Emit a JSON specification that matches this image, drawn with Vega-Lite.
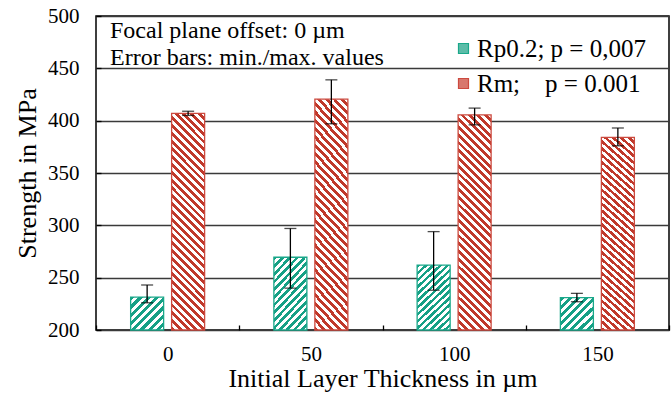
{
"$schema":"https://vega.github.io/schema/vega-lite/v6.json",
"autosize":"none",
"padding":{"left":96,"top":16,"right":2,"bottom":66},
"width":573,"height":314,
"background":"white",
"config":{"view":{"stroke":"black","strokeWidth":1.5},"font":"Liberation Serif",
"axis":{"labelFont":"Liberation Serif","titleFont":"Liberation Serif","labelColor":"black","titleColor":"black","titleFontWeight":"normal"},
"legend":{"labelFont":"Liberation Serif"}},
"title":{"text":["Focal plane offset: 0 µm","Error bars: min./max. values"],"anchor":"start","frame":"group","offset":-65,"dx":14,"fontSize":24,"fontWeight":"normal","lineHeight":27,"font":"Liberation Serif","color":"black"},
"data":{"values":[
{"t":"0","k":"Rp","s":"Rp0.2; p = 0,007","v":231.5,"lo":226,"hi":243},
{"t":"0","k":"Rm","s":"Rm;\u00a0\u00a0\u00a0\u00a0p = 0.001","v":407,"lo":405,"hi":409},
{"t":"50","k":"Rp","s":"Rp0.2; p = 0,007","v":269.5,"lo":240,"hi":297},
{"t":"50","k":"Rm","s":"Rm;\u00a0\u00a0\u00a0\u00a0p = 0.001","v":420.5,"lo":397,"hi":439},
{"t":"100","k":"Rp","s":"Rp0.2; p = 0,007","v":262,"lo":238,"hi":294},
{"t":"100","k":"Rm","s":"Rm;\u00a0\u00a0\u00a0\u00a0p = 0.001","v":405.5,"lo":396,"hi":412},
{"t":"150","k":"Rp","s":"Rp0.2; p = 0,007","v":231,"lo":227,"hi":235},
{"t":"150","k":"Rm","s":"Rm;\u00a0\u00a0\u00a0\u00a0p = 0.001","v":384,"lo":376,"hi":393}
]},
"encoding":{
"x":{"field":"t","type":"ordinal","sort":["0","50","100","150"],"scale":{"domain":["0","50","100","150"],"paddingInner":0,"paddingOuter":0},
"axis":{"title":"Initial Layer Thickness in µm","labelAngle":0,"domain":false,"grid":false,"tickBand":"extent","tickSize":-5,"tickColor":"black","tickWidth":1.3,"labelFontSize":21,"labelFont":"Liberation Serif","labelColor":"black","labelPadding":18,"titleFontSize":26,"titleFont":"Liberation Serif","titleFontWeight":"normal","titleColor":"black","titlePadding":1}},
"xOffset":{"field":"s","type":"nominal","sort":["Rp0.2; p = 0,007","Rm;\u00a0\u00a0\u00a0\u00a0p = 0.001"],"scale":{"domain":["Rp0.2; p = 0,007","Rm;\u00a0\u00a0\u00a0\u00a0p = 0.001"],"paddingInner":0.195,"paddingOuter":0.845}}
},
"layer":[
{"transform":[{"filter":"datum.k == 'Rm'"}],
"mark":{"type":"bar","fill":{"gradient":"linear","x1":0,"y1":1,"x2":0.172,"y2":-0.1265,"stops":[
{"offset":0,"color":"#c0392b"},
{"offset":0.015625,"color":"#c0392b"},{"offset":0.015625,"color":"#ffffff"},
{"offset":0.03125,"color":"#ffffff"},{"offset":0.03125,"color":"#c0392b"},
{"offset":0.046875,"color":"#c0392b"},{"offset":0.046875,"color":"#ffffff"},
{"offset":0.0625,"color":"#ffffff"},{"offset":0.0625,"color":"#c0392b"},
{"offset":0.078125,"color":"#c0392b"},{"offset":0.078125,"color":"#ffffff"},
{"offset":0.09375,"color":"#ffffff"},{"offset":0.09375,"color":"#c0392b"},
{"offset":0.109375,"color":"#c0392b"},{"offset":0.109375,"color":"#ffffff"},
{"offset":0.125,"color":"#ffffff"},{"offset":0.125,"color":"#c0392b"},
{"offset":0.140625,"color":"#c0392b"},{"offset":0.140625,"color":"#ffffff"},
{"offset":0.15625,"color":"#ffffff"},{"offset":0.15625,"color":"#c0392b"},
{"offset":0.171875,"color":"#c0392b"},{"offset":0.171875,"color":"#ffffff"},
{"offset":0.1875,"color":"#ffffff"},{"offset":0.1875,"color":"#c0392b"},
{"offset":0.203125,"color":"#c0392b"},{"offset":0.203125,"color":"#ffffff"},
{"offset":0.21875,"color":"#ffffff"},{"offset":0.21875,"color":"#c0392b"},
{"offset":0.234375,"color":"#c0392b"},{"offset":0.234375,"color":"#ffffff"},
{"offset":0.25,"color":"#ffffff"},{"offset":0.25,"color":"#c0392b"},
{"offset":0.265625,"color":"#c0392b"},{"offset":0.265625,"color":"#ffffff"},
{"offset":0.28125,"color":"#ffffff"},{"offset":0.28125,"color":"#c0392b"},
{"offset":0.296875,"color":"#c0392b"},{"offset":0.296875,"color":"#ffffff"},
{"offset":0.3125,"color":"#ffffff"},{"offset":0.3125,"color":"#c0392b"},
{"offset":0.328125,"color":"#c0392b"},{"offset":0.328125,"color":"#ffffff"},
{"offset":0.34375,"color":"#ffffff"},{"offset":0.34375,"color":"#c0392b"},
{"offset":0.359375,"color":"#c0392b"},{"offset":0.359375,"color":"#ffffff"},
{"offset":0.375,"color":"#ffffff"},{"offset":0.375,"color":"#c0392b"},
{"offset":0.390625,"color":"#c0392b"},{"offset":0.390625,"color":"#ffffff"},
{"offset":0.40625,"color":"#ffffff"},{"offset":0.40625,"color":"#c0392b"},
{"offset":0.421875,"color":"#c0392b"},{"offset":0.421875,"color":"#ffffff"},
{"offset":0.4375,"color":"#ffffff"},{"offset":0.4375,"color":"#c0392b"},
{"offset":0.453125,"color":"#c0392b"},{"offset":0.453125,"color":"#ffffff"},
{"offset":0.46875,"color":"#ffffff"},{"offset":0.46875,"color":"#c0392b"},
{"offset":0.484375,"color":"#c0392b"},{"offset":0.484375,"color":"#ffffff"},
{"offset":0.5,"color":"#ffffff"},{"offset":0.5,"color":"#c0392b"},
{"offset":0.515625,"color":"#c0392b"},{"offset":0.515625,"color":"#ffffff"},
{"offset":0.53125,"color":"#ffffff"},{"offset":0.53125,"color":"#c0392b"},
{"offset":0.546875,"color":"#c0392b"},{"offset":0.546875,"color":"#ffffff"},
{"offset":0.5625,"color":"#ffffff"},{"offset":0.5625,"color":"#c0392b"},
{"offset":0.578125,"color":"#c0392b"},{"offset":0.578125,"color":"#ffffff"},
{"offset":0.59375,"color":"#ffffff"},{"offset":0.59375,"color":"#c0392b"},
{"offset":0.609375,"color":"#c0392b"},{"offset":0.609375,"color":"#ffffff"},
{"offset":0.625,"color":"#ffffff"},{"offset":0.625,"color":"#c0392b"},
{"offset":0.640625,"color":"#c0392b"},{"offset":0.640625,"color":"#ffffff"},
{"offset":0.65625,"color":"#ffffff"},{"offset":0.65625,"color":"#c0392b"},
{"offset":0.671875,"color":"#c0392b"},{"offset":0.671875,"color":"#ffffff"},
{"offset":0.6875,"color":"#ffffff"},{"offset":0.6875,"color":"#c0392b"},
{"offset":0.703125,"color":"#c0392b"},{"offset":0.703125,"color":"#ffffff"},
{"offset":0.71875,"color":"#ffffff"},{"offset":0.71875,"color":"#c0392b"},
{"offset":0.734375,"color":"#c0392b"},{"offset":0.734375,"color":"#ffffff"},
{"offset":0.75,"color":"#ffffff"},{"offset":0.75,"color":"#c0392b"},
{"offset":0.765625,"color":"#c0392b"},{"offset":0.765625,"color":"#ffffff"},
{"offset":0.78125,"color":"#ffffff"},{"offset":0.78125,"color":"#c0392b"},
{"offset":0.796875,"color":"#c0392b"},{"offset":0.796875,"color":"#ffffff"},
{"offset":0.8125,"color":"#ffffff"},{"offset":0.8125,"color":"#c0392b"},
{"offset":0.828125,"color":"#c0392b"},{"offset":0.828125,"color":"#ffffff"},
{"offset":0.84375,"color":"#ffffff"},{"offset":0.84375,"color":"#c0392b"},
{"offset":0.859375,"color":"#c0392b"},{"offset":0.859375,"color":"#ffffff"},
{"offset":0.875,"color":"#ffffff"},{"offset":0.875,"color":"#c0392b"},
{"offset":0.890625,"color":"#c0392b"},{"offset":0.890625,"color":"#ffffff"},
{"offset":0.90625,"color":"#ffffff"},{"offset":0.90625,"color":"#c0392b"},
{"offset":0.921875,"color":"#c0392b"},{"offset":0.921875,"color":"#ffffff"},
{"offset":0.9375,"color":"#ffffff"},{"offset":0.9375,"color":"#c0392b"},
{"offset":0.953125,"color":"#c0392b"},{"offset":0.953125,"color":"#ffffff"},
{"offset":0.96875,"color":"#ffffff"},{"offset":0.96875,"color":"#c0392b"},
{"offset":0.984375,"color":"#c0392b"},{"offset":0.984375,"color":"#ffffff"},
{"offset":1,"color":"#ffffff"}
]}},
"encoding":{"y":{"field":"v","type":"quantitative","scale":{"domain":[200,500],"nice":false,"zero":false},
"axis":{"title":"Strength in MPa","values":[200,225,250,275,300,325,350,375,400,425,450,475,500],"labelExpr":"datum.value % 50 == 0 ? datum.label : ''","domain":false,"grid":true,"gridColor":"#3a3a3a","gridWidth":1.5,"gridOpacity":{"condition":{"test":"datum.value % 50 == 0","value":1},"value":0},"tickSize":-5,"tickColor":"black","tickWidth":1.3,"labelFontSize":21,"labelFont":"Liberation Serif","labelColor":"black","labelPadding":22,"titleFontSize":26,"titleFont":"Liberation Serif","titleFontWeight":"normal","titleColor":"black","titlePadding":7}},
"y2":{"datum":200}}},
{"transform":[{"filter":"datum.k == 'Rp' && (datum.t == '50' || datum.t == '100')"}],
"mark":{"type":"bar","fill":{"gradient":"linear","x1":0,"y1":0,"x2":0.5754,"y2":1.2031,"stops":[
{"offset":0,"color":"#16a085"},
{"offset":0.035714,"color":"#16a085"},{"offset":0.035714,"color":"#ffffff"},
{"offset":0.071429,"color":"#ffffff"},{"offset":0.071429,"color":"#16a085"},
{"offset":0.107143,"color":"#16a085"},{"offset":0.107143,"color":"#ffffff"},
{"offset":0.142857,"color":"#ffffff"},{"offset":0.142857,"color":"#16a085"},
{"offset":0.178571,"color":"#16a085"},{"offset":0.178571,"color":"#ffffff"},
{"offset":0.214286,"color":"#ffffff"},{"offset":0.214286,"color":"#16a085"},
{"offset":0.25,"color":"#16a085"},{"offset":0.25,"color":"#ffffff"},
{"offset":0.285714,"color":"#ffffff"},{"offset":0.285714,"color":"#16a085"},
{"offset":0.321429,"color":"#16a085"},{"offset":0.321429,"color":"#ffffff"},
{"offset":0.357143,"color":"#ffffff"},{"offset":0.357143,"color":"#16a085"},
{"offset":0.392857,"color":"#16a085"},{"offset":0.392857,"color":"#ffffff"},
{"offset":0.428571,"color":"#ffffff"},{"offset":0.428571,"color":"#16a085"},
{"offset":0.464286,"color":"#16a085"},{"offset":0.464286,"color":"#ffffff"},
{"offset":0.5,"color":"#ffffff"},{"offset":0.5,"color":"#16a085"},
{"offset":0.535714,"color":"#16a085"},{"offset":0.535714,"color":"#ffffff"},
{"offset":0.571429,"color":"#ffffff"},{"offset":0.571429,"color":"#16a085"},
{"offset":0.607143,"color":"#16a085"},{"offset":0.607143,"color":"#ffffff"},
{"offset":0.642857,"color":"#ffffff"},{"offset":0.642857,"color":"#16a085"},
{"offset":0.678571,"color":"#16a085"},{"offset":0.678571,"color":"#ffffff"},
{"offset":0.714286,"color":"#ffffff"},{"offset":0.714286,"color":"#16a085"},
{"offset":0.75,"color":"#16a085"},{"offset":0.75,"color":"#ffffff"},
{"offset":0.785714,"color":"#ffffff"},{"offset":0.785714,"color":"#16a085"},
{"offset":0.821429,"color":"#16a085"},{"offset":0.821429,"color":"#ffffff"},
{"offset":0.857143,"color":"#ffffff"},{"offset":0.857143,"color":"#16a085"},
{"offset":0.892857,"color":"#16a085"},{"offset":0.892857,"color":"#ffffff"},
{"offset":0.928571,"color":"#ffffff"},{"offset":0.928571,"color":"#16a085"},
{"offset":0.964286,"color":"#16a085"},{"offset":0.964286,"color":"#ffffff"},
{"offset":1,"color":"#ffffff"}
]}},
"encoding":{"y":{"field":"v","type":"quantitative"},"y2":{"datum":200}}},
{"transform":[{"filter":"datum.k == 'Rp' && (datum.t == '0' || datum.t == '150')"}],
"mark":{"type":"bar","fill":{"gradient":"linear","x1":0,"y1":0,"x2":1,"y2":1,"stops":[
{"offset":0,"color":"#16a085"},
{"offset":0.0625,"color":"#16a085"},{"offset":0.0625,"color":"#ffffff"},
{"offset":0.125,"color":"#ffffff"},{"offset":0.125,"color":"#16a085"},
{"offset":0.1875,"color":"#16a085"},{"offset":0.1875,"color":"#ffffff"},
{"offset":0.25,"color":"#ffffff"},{"offset":0.25,"color":"#16a085"},
{"offset":0.3125,"color":"#16a085"},{"offset":0.3125,"color":"#ffffff"},
{"offset":0.375,"color":"#ffffff"},{"offset":0.375,"color":"#16a085"},
{"offset":0.4375,"color":"#16a085"},{"offset":0.4375,"color":"#ffffff"},
{"offset":0.5,"color":"#ffffff"},{"offset":0.5,"color":"#16a085"},
{"offset":0.5625,"color":"#16a085"},{"offset":0.5625,"color":"#ffffff"},
{"offset":0.625,"color":"#ffffff"},{"offset":0.625,"color":"#16a085"},
{"offset":0.6875,"color":"#16a085"},{"offset":0.6875,"color":"#ffffff"},
{"offset":0.75,"color":"#ffffff"},{"offset":0.75,"color":"#16a085"},
{"offset":0.8125,"color":"#16a085"},{"offset":0.8125,"color":"#ffffff"},
{"offset":0.875,"color":"#ffffff"},{"offset":0.875,"color":"#16a085"},
{"offset":0.9375,"color":"#16a085"},{"offset":0.9375,"color":"#ffffff"},
{"offset":1,"color":"#ffffff"}
]}},
"encoding":{"y":{"field":"v","type":"quantitative"},"y2":{"datum":200}}},
{"mark":{"type":"bar","fillOpacity":0,"strokeWidth":1.3},
"encoding":{"y":{"field":"v","type":"quantitative"},"y2":{"datum":200},
"fill":{"field":"s","type":"nominal","sort":["Rp0.2; p = 0,007","Rm;\u00a0\u00a0\u00a0\u00a0p = 0.001"],"scale":{"domain":["Rp0.2; p = 0,007","Rm;\u00a0\u00a0\u00a0\u00a0p = 0.001"],"range":["#5cbca8","#d8776d"]},
"legend":{"orient":"none","legendX":355,"legendY":20,"title":null,"labelFontSize":25,"labelFont":"Liberation Serif","labelColor":"black","symbolType":"square","symbolSize":100,"symbolStrokeWidth":1.2,"symbolOpacity":1,"symbolFillOpacity":1,"rowPadding":9,"padding":0,"labelOffset":1,"labelLimit":400}},
"stroke":{"field":"s","type":"nominal","sort":["Rp0.2; p = 0,007","Rm;\u00a0\u00a0\u00a0\u00a0p = 0.001"],"scale":{"domain":["Rp0.2; p = 0,007","Rm;\u00a0\u00a0\u00a0\u00a0p = 0.001"],"range":["#1aa88a","#cc4a3f"]},
"legend":{"orient":"none","legendX":355,"legendY":20,"title":null,"labelFontSize":25,"labelFont":"Liberation Serif","labelColor":"black","symbolType":"square","symbolSize":100,"symbolStrokeWidth":1.2,"rowPadding":9,"padding":0,"labelOffset":1,"labelLimit":400}}}},
{"mark":{"type":"rule","color":"black","strokeWidth":1.3},
"encoding":{"y":{"field":"lo","type":"quantitative"},"y2":{"field":"hi"}}},
{"mark":{"type":"tick","color":"black","size":12,"thickness":1.3},
"encoding":{"y":{"field":"lo","type":"quantitative"}}},
{"mark":{"type":"tick","color":"black","size":12,"thickness":1.3},
"encoding":{"y":{"field":"hi","type":"quantitative"}}}
]
}
